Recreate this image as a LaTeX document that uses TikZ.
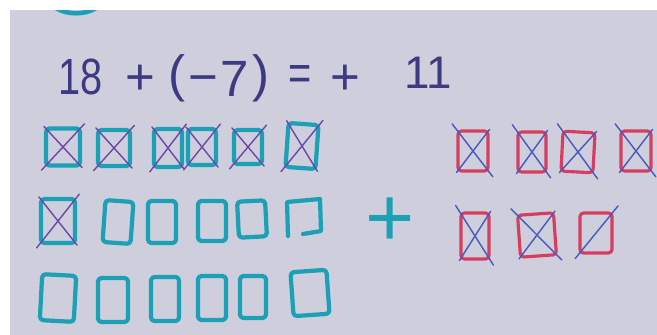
\documentclass[tikz,border=0pt]{standalone}
\usepackage{fontspec}
\setmainfont{Liberation Sans}
\usepackage{graphicx}
\usetikzlibrary{positioning}
\definecolor{hartie}{RGB}{206,206,220}
\definecolor{cian}{RGB}{28,160,182}
\definecolor{rosu}{RGB}{214,62,96}
\definecolor{mov}{RGB}{110,70,170}
\definecolor{albastru}{RGB}{70,90,190}
\definecolor{cerneala}{RGB}{60,58,128}
\newcommand{\ingust}[1]{\scalebox{0.78}[1]{#1}}
\tikzset{
  patrat/.style     = {draw, rounded corners=2pt, inner sep=0pt, line join=round},
  patratcian/.style = {patrat, draw=cian, line width=2.4pt},
  patratrosu/.style = {patrat, draw=rosu, line width=1.8pt},
  taiat/.style      = {draw=mov, line width=0.8pt, line cap=round, shorten <=-2pt, shorten >=-2pt},
  taiatrosu/.style  = {draw=albastru, line width=0.8pt, line cap=round, shorten <=-4pt, shorten >=-3pt},
  cifra/.style      = {text=cerneala, inner sep=0pt, font=\fontsize{29}{29}\selectfont},
  ciframica/.style  = {cifra, font=\fontsize{26}{26}\selectfont}
}

\begin{document}
\begin{tikzpicture}[x=0.2mm, y=-0.2mm]
        \useasboundingbox (0,0) rectangle (657,335);
        \fill[hartie] (10,10) rectangle (657,335);
        \begin{scope}
            \clip (10,10) rectangle (657,335);
            \draw[cian, line width=2.6pt, line cap=round] (56,8) .. controls (66,15) and (86,15) .. (96,8);
        \end{scope}

        % ecuatia
        \node[cifra] (optspe) at (81,77) {\ingust{18}};
        \node[cifra] (plus1) at (140,80) {+};
        \node[cifra] (parst) at (177,78) {(};
        \node[cifra, anchor=base] (minus) at (203,94) {−};
        \node[cifra] (sapte) at (235,79) {7};
        \node[cifra] (pardr) at (261,78) {)};
        \node[cifra] (egal) at (300,78) {\ingust{=}};
        \node[cifra] (plus2) at (345,80) {+};
        \node[ciframica] (unspe) at (428,73) {11};

        % patrate cian
        \node[patratcian, minimum width=6.8mm, minimum height=7.4mm] (c11) at (63,147) {};
        \node[patratcian, minimum width=6.4mm, minimum height=7.2mm] (c12) at (114,148) {};
        \node[patratcian, minimum width=5.6mm, minimum height=7.6mm] (c13) at (168,148) {};
        \node[patratcian, minimum width=5.6mm, minimum height=7.2mm] (c14) at (202,147) {};
        \node[patratcian, minimum width=5.6mm, minimum height=6.8mm] (c15) at (248,147) {};
        \node[patratcian, minimum width=6mm, minimum height=8.8mm, rotate=-4] (c16) at (302,146) {};

        \node[patratcian, minimum width=6.8mm, minimum height=8.8mm] (c21) at (58,221) {};
        \node[patratcian, minimum width=5.6mm, minimum height=8.4mm, rotate=-4] (c22) at (118,222) {};
        \node[patratcian, minimum width=5.6mm, minimum height=8.4mm] (c23) at (162,222) {};
        \node[patratcian, minimum width=5.6mm, minimum height=8mm] (c24) at (212,221) {};
        \node[patratcian, minimum width=5.6mm, minimum height=7.2mm, rotate=3] (c25) at (252,219) {};
        \draw[cian, line width=2.4pt, line cap=round, line join=round]
            (288,236) -- (287,202) -- (320,199) -- (321,231) -- (303,234);

        \node[patratcian, minimum width=6.8mm, minimum height=9.2mm, rotate=-3] (c31) at (58,298) {};
        \node[patratcian, minimum width=6mm, minimum height=8.8mm] (c32) at (113,300) {};
        \node[patratcian, minimum width=5.6mm, minimum height=8.8mm] (c33) at (165,299) {};
        \node[patratcian, minimum width=5.6mm, minimum height=8.8mm] (c34) at (212,298) {};
        \node[patratcian, minimum width=5.2mm, minimum height=8.4mm] (c35) at (253,297) {};
        \node[patratcian, minimum width=7.2mm, minimum height=8.8mm, rotate=4] (c36) at (310,293) {};

        \node[text=cian, inner sep=0pt, font=\fontsize{48}{48}\selectfont] (plusmare) at (390,222) {+};

        % patrate rosii
        \node[patratrosu, minimum width=6mm, minimum height=8mm] (r11) at (473,151) {};
        \node[patratrosu, minimum width=5.6mm, minimum height=8mm] (r12) at (532,152) {};
        \node[patratrosu, minimum width=6.4mm, minimum height=8mm, rotate=-3] (r13) at (578,152) {};
        \node[patratrosu, minimum width=6mm, minimum height=8mm] (r14) at (636,151) {};
        \node[patratrosu, minimum width=5.6mm, minimum height=9.2mm] (r21) at (475,236) {};
        \node[patratrosu, minimum width=7.2mm, minimum height=8.4mm, rotate=4] (r22) at (537,235) {};
        \node[patratrosu, minimum width=6.4mm, minimum height=8mm] (r23) at (596,233) {};

        % taieturi
        \draw[taiat] (c11.north west) -- (c11.south east) (c11.north east) -- (c11.south west);
        \draw[taiat] (c12.north west) -- (c12.south east) (c12.north east) -- (c12.south west);
        \draw[taiat] (c13.north west) -- (c13.south east) (c13.north east) -- (c13.south west);
        \draw[taiat] (c14.north west) -- (c14.south east) (c14.north east) -- (c14.south west);
        \draw[taiat] (c15.north west) -- (c15.south east) (c15.north east) -- (c15.south west);
        \draw[taiat] (c16.north west) -- (c16.south east) (c16.north east) -- (c16.south west);
        \draw[taiat] (c21.north west) -- (c21.south east) (c21.north east) -- (c21.south west);

        \draw[taiatrosu] (r11.north east) -- (r11.south west) (r11.north west) -- (r11.south east);
        \draw[taiatrosu] (r12.north east) -- (r12.south west) (r12.north west) -- (r12.south east);
        \draw[taiatrosu] (r13.north east) -- (r13.south west) (r13.north west) -- (r13.south east);
        \draw[taiatrosu] (r14.north east) -- (r14.south west) (r14.north west) -- (r14.south east);
        \draw[taiatrosu] (r21.north east) -- (r21.south west) (r21.north west) -- (r21.south east);
        \draw[taiatrosu] (r22.north east) -- (r22.south west) (r22.north west) -- (r22.south east);
        \draw[taiatrosu] (r23.north east) -- (r23.south west);
    \end{tikzpicture}
\end{document}
